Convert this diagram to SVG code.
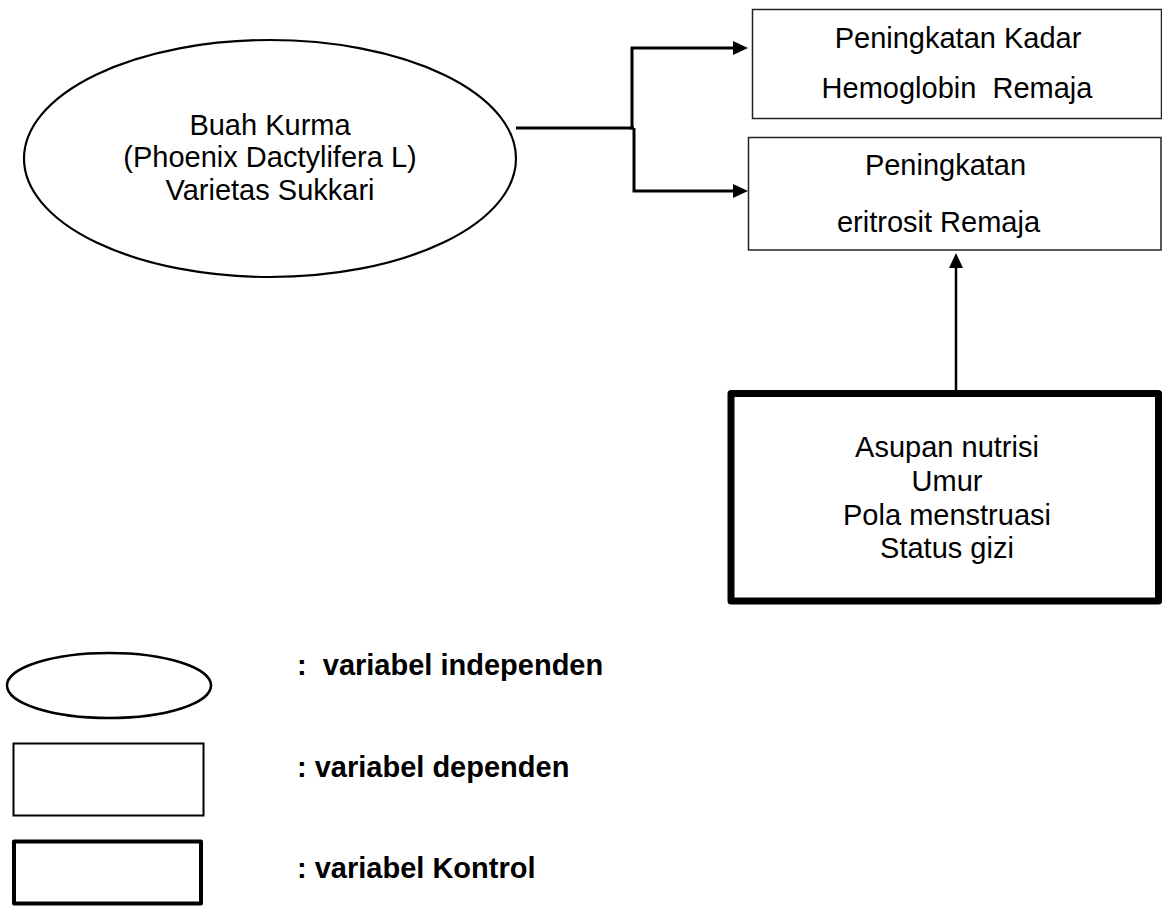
<svg xmlns="http://www.w3.org/2000/svg" width="1162" height="907" viewBox="0 0 1162 907">
<style>
  text { font-family: "Liberation Sans", Arial, sans-serif; font-size: 29px; fill: #000; }
  .c { text-anchor: middle; }
  .b { font-weight: bold; }
  .thin { fill: #fff; stroke: #222; stroke-width: 1.5; }
  .ell { fill: #fff; stroke: #000; stroke-width: 2.2; }
  .thick { fill: #fff; stroke: #000; stroke-width: 7; stroke-linejoin: round; }
  .conn { fill: none; stroke: #000; stroke-width: 3; }
</style>
<defs>
  <marker id="arr" viewBox="0 0 15 14" markerWidth="15" markerHeight="14" refX="0" refY="7" orient="auto" markerUnits="userSpaceOnUse">
    <path d="M0,0 L15,7 L0,14 z" fill="#000"/>
  </marker>
</defs>
<rect width="1162" height="907" fill="#fff"/>

<g id="node-buah-kurma">
  <ellipse class="ell" cx="270" cy="158.5" rx="246" ry="118.5"/>
  <text class="c" x="270" y="135">Buah Kurma</text>
  <text class="c" x="270" y="167">(Phoenix Dactylifera L)</text>
  <text class="c" x="270" y="200">Varietas Sukkari</text>
</g>

<g id="node-hemoglobin">
  <rect class="thin" x="752.5" y="9.5" width="409" height="109"/>
  <text class="c" x="958" y="48">Peningkatan Kadar</text>
  <text class="c" x="957" y="98" xml:space="preserve">Hemoglobin  Remaja</text>
</g>

<g id="node-eritrosit">
  <rect class="thin" x="748.5" y="137.5" width="412.5" height="112.5"/>
  <text class="c" x="945.5" y="175">Peningkatan</text>
  <text class="c" x="938.5" y="232">eritrosit Remaja</text>
</g>

<g id="node-kontrol">
  <rect class="thick" x="731" y="393.5" width="427.5" height="207.5"/>
  <text class="c" x="947" y="457">Asupan nutrisi</text>
  <text class="c" x="947" y="491">Umur</text>
  <text class="c" x="947" y="525">Pola menstruasi</text>
  <text class="c" x="947" y="558">Status gizi</text>
</g>

<g id="connectors">
  <path class="conn" d="M516,128 H634"/>
  <path class="conn" d="M632,129.5 V48 H733" marker-end="url(#arr)"/>
  <path class="conn" d="M634,128 V191 H733" marker-end="url(#arr)"/>
  <path class="conn" style="stroke-width:2.5" d="M956,390 V268" marker-end="url(#arr)"/>
</g>

<g id="legend-independen">
  <ellipse class="ell" cx="109" cy="685.5" rx="102" ry="32.5" style="stroke-width:2.5"/>
  <text class="b" x="297" y="675" xml:space="preserve">:  variabel independen</text>
</g>
<g id="legend-dependen">
  <rect class="thin" x="13.5" y="743.5" width="190" height="72" style="stroke:#000;stroke-width:2"/>
  <text class="b" x="297" y="777">: variabel dependen</text>
</g>
<g id="legend-kontrol">
  <rect class="thick" x="14" y="841.5" width="187" height="62" style="stroke-width:4"/>
  <text class="b" x="297" y="878">: variabel Kontrol</text>
</g>
</svg>
